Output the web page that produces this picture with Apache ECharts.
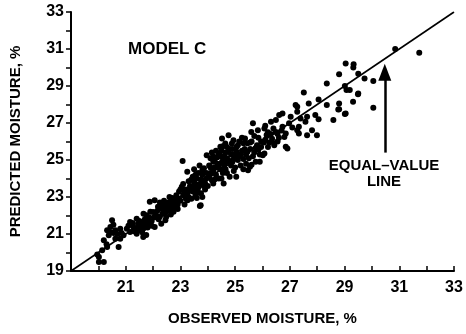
<!DOCTYPE html>
<html>
<head>
<meta charset="utf-8">
<style>
  html, body { margin: 0; padding: 0; background: #fff; }
  #chart { width: 466px; height: 334px; }
</style>
<script src="https://cdn.jsdelivr.net/npm/echarts@6/dist/echarts.min.js"></script>
</head>
<body>
<div id="chart"></div>
<script>
// ===== Data =====
const xTicks = [21, 23, 25, 27, 29, 31, 33];
const yTicks = [19, 21, 23, 25, 27, 29, 31, 33];
const equalLine = [[19, 19], [33, 33]];
const arrowFrom = [30.47, 25.4];
const arrowTo = [30.47, 29.75];

// observed, predicted
const ptsBelow21 = [
  [20.02,19.49],[20.2,19.49],[19.96,19.89],[20.02,19.76],[20.14,20.12],[20.32,20.3],[20.2,20.66],
  [20.32,21.2],[20.38,20.93],[20.5,21.74],[20.44,21.38],[20.62,20.75],[20.74,20.3],[20.62,21.2],
  [20.8,20.75],[20.92,20.93],[20.8,21.29],[20.56,21.05],[20.7,21.0],[20.45,21.1],[20.55,21.5],
  [20.85,21.05],[20.3,20.45]
];
const pts21to22 = [
  [21.04,21.29],[21.16,21.65],[21.28,21.38],[21.4,21.83],[21.52,21.38],[21.64,20.84],[21.58,21.65],
  [21.76,22.01],[21.88,21.56],[21.4,21.02],[21.16,21.11],[21.64,21.29],[21.1,21.45],[21.3,21.15],
  [21.45,21.55],[21.7,21.8],[21.85,21.9],[21.95,21.7],[21.5,21.7],[21.6,21.1],[21.8,21.35],
  [21.25,21.6],[21.9,22.2],[21.35,21.25],[21.75,20.95],[21.55,21.5],[21.7,21.5],[21.8,21.7],
  [21.45,21.2],[21.95,21.45],[21.65,22.1]
];
const pts22to23 = [
  [22.0,22.19],[22.06,21.38],[22.3,21.56],[22.24,22.38],[22.42,22.56],[22.6,22.28],[22.66,22.83],
  [22.48,21.92],[22.06,22.83],[21.88,22.74],[22.18,22.47],[22.1,22.0],[22.2,21.8],[22.35,22.1],
  [22.5,22.3],[22.55,22.7],[22.7,22.5],[22.8,22.9],[22.9,22.6],[22.75,22.2],[22.85,23.1],
  [22.95,23.3],[22.4,22.8],[22.3,22.55],[22.15,22.25],[22.65,22.05],[22.9,22.35],[22.45,21.75],
  [22.6,23.0],[22.25,21.95],[22.05,21.9],[22.35,22.35],[22.55,22.45],[22.75,22.7],[22.85,22.8],
  [22.45,22.15],[22.7,22.95],[22.95,22.9],[22.25,22.7],[22.8,22.45]
];
const pts23to24 = [
  [23.08,24.95],[23.74,22.56],[23.71,22.52],[23.0,22.8],[23.1,23.1],[23.15,22.6],[23.2,23.4],
  [23.25,24.36],[23.3,23.0],[23.35,23.6],[23.4,22.9],[23.45,23.3],[23.5,23.8],[23.55,23.1],
  [23.6,24.0],[23.65,23.5],[23.7,23.7],[23.75,23.2],[23.8,24.2],[23.85,23.9],[23.86,24.56],
  [23.9,23.4],[23.95,24.3],[23.96,25.26],[23.05,23.55],[23.2,22.9],[23.3,23.85],[23.45,24.1],
  [23.55,23.35],[23.65,24.3],[23.8,23.0],[23.9,23.75],[23.15,23.3],[23.4,23.55],[23.6,22.95],
  [23.26,22.83],[23.0,23.4],[23.5,24.5],[23.7,24.7],[23.1,23.7],[23.25,23.2],[23.35,23.35],
  [23.5,23.55],[23.6,23.65],[23.75,23.95],[23.85,23.6],[23.95,24.0],[23.4,23.95],[23.65,23.25],
  [23.8,24.45],[23.55,24.2]
];
const pts24to25 = [
  [24.0,23.6],[24.05,24.1],[24.1,24.6],[24.15,23.9],[24.2,23.73],[24.2,24.4],[24.25,25.0],
  [24.3,24.2],[24.35,24.8],[24.4,25.35],[24.45,24.5],[24.46,25.71],[24.5,24.0],[24.52,26.16],
  [24.55,25.1],[24.58,23.73],[24.6,24.7],[24.64,25.89],[24.65,25.4],[24.7,24.3],[24.75,25.0],
  [24.76,26.34],[24.8,25.6],[24.85,24.7],[24.88,25.89],[24.9,25.3],[24.94,26.07],[24.95,24.4],
  [24.1,25.1],[24.3,25.5],[24.4,24.0],[24.6,25.2],[24.7,25.7],[24.8,24.1],[24.2,24.9],
  [24.5,25.5],[24.35,24.6],[24.65,24.9],[24.85,25.3],[24.05,24.7],[24.25,23.95],[24.9,24.9],
  [24.15,25.4],[24.55,24.3],[24.1,24.3],[24.25,24.6],[24.4,24.7],[24.5,24.85],[24.6,24.95],
  [24.7,25.1],[24.8,24.85],[24.9,25.6],[24.35,25.15],[24.45,25.25],[24.75,25.45],[24.55,25.75],
  [24.95,25.05],[24.2,25.2],[24.65,24.5]
];
const pts25to26 = [
  [25.0,25.2],[25.04,24.1],[25.05,25.7],[25.1,25.0],[25.15,26.0],[25.2,24.7],[25.25,25.5],
  [25.3,24.5],[25.36,26.16],[25.4,25.3],[25.45,25.9],[25.47,24.45],[25.5,25.1],[25.54,24.63],
  [25.55,25.6],[25.59,26.52],[25.6,26.0],[25.65,26.98],[25.7,25.4],[25.75,24.9],[25.8,25.8],
  [25.83,26.61],[25.85,26.2],[25.9,25.3],[25.95,26.0],[25.1,25.8],[25.3,25.9],[25.2,25.3],
  [25.4,24.8],[25.65,25.2],[25.7,26.3],[25.9,24.9],[25.0,24.6],[25.25,26.2],[25.05,25.45],
  [25.15,25.2],[25.35,25.6],[25.45,25.45],[25.55,25.95],[25.75,25.65],[25.85,25.55],[25.6,24.75],
  [25.95,25.7],[25.3,25.05]
];
const pts26to27 = [
  [26.01,25.26],[26.07,26.7],[26.07,25.35],[26.1,26.1],[26.2,25.7],[26.31,27.07],[26.43,25.9],
  [26.43,25.8],[26.49,27.16],[26.49,26.52],[26.61,27.43],[26.73,27.52],[26.73,26.8],[26.85,26.43],
  [26.85,25.71],[26.91,25.62],[26.97,26.98],[26.3,26.4],[26.6,26.2],[26.15,26.35],[26.25,25.95],
  [26.55,26.0],[26.7,26.6],[26.05,25.95],[26.2,26.5],[26.35,26.15],[26.4,26.7],[26.55,26.4],
  [26.8,26.25],[26.1,26.85]
];
const ptsAbove27 = [
  [27.03,27.34],[27.09,26.76],[27.21,27.97],[27.27,27.61],[27.27,27.88],[27.27,26.61],[27.33,26.8],
  [27.33,26.43],[27.39,27.25],[27.51,28.65],[27.57,27.07],[27.63,27.34],[27.63,26.34],[27.69,28.06],
  [27.81,26.61],[27.93,27.43],[27.99,26.34],[28.05,28.27],[28.05,27.2],[28.35,29.14],[28.35,27.97],
  [28.59,27.16],[28.77,27.73],[28.8,29.63],[28.8,28.06],[28.8,27.75],[29.01,29.0],[29.01,27.48],
  [29.04,30.22],[29.04,27.52],[29.07,28.78],[29.19,28.78],[29.31,28.15],[29.33,30.17],[29.32,30.0],
  [29.49,28.56],[29.5,29.66],[29.5,28.6],[29.73,29.41],[30.05,29.27],[30.05,27.82],[30.85,31.0],
  [31.73,30.8]
];

const allPoints = [].concat(ptsBelow21, pts21to22, pts22to23, pts23to24,
  pts24to25, pts25to26, pts26to27, ptsAbove27);

// ===== Chart =====
const FONT = '"Liberation Sans", Arial, sans-serif';
const chart = echarts.init(document.getElementById('chart'), null, { renderer: 'canvas' });

const onlyTicks = list => v => (list.includes(v) ? String(v) : '');

chart.setOption({
  animation: false,
  backgroundColor: '#fff',
  grid: { left: 65, right: 12, top: 12, bottom: 63 },
  xAxis: {
    type: 'value', min: 19, max: 33, interval: 1,
    name: 'OBSERVED MOISTURE, %', nameLocation: 'middle', nameGap: 40,
    nameTextStyle: { color: '#000', fontFamily: FONT, fontWeight: 'bold', fontSize: 15 },
    axisLine: { lineStyle: { color: '#000', width: 2 } },
    axisTick: { inside: true, length: 5, lineStyle: { color: '#000', width: 1.5 } },
    axisLabel: {
      color: '#000', fontFamily: FONT, fontWeight: 'bold', fontSize: 16, margin: 9,
      formatter: onlyTicks(xTicks)
    },
    splitLine: { show: false }
  },
  yAxis: {
    type: 'value', min: 19, max: 33, interval: 1,
    name: 'PREDICTED MOISTURE, %', nameLocation: 'middle', nameGap: 48,
    nameTextStyle: { color: '#000', fontFamily: FONT, fontWeight: 'bold', fontSize: 15 },
    axisLine: { lineStyle: { color: '#000', width: 2 } },
    axisTick: { inside: false, length: 5, lineStyle: { color: '#000', width: 1.5 } },
    axisLabel: {
      color: '#000', fontFamily: FONT, fontWeight: 'bold', fontSize: 16, margin: 7,
      formatter: onlyTicks(yTicks)
    },
    splitLine: { show: false }
  },
  series: [
    {
      type: 'line',
      data: equalLine,
      symbol: 'none',
      lineStyle: { color: '#000', width: 1.6 },
      markLine: {
        silent: true,
        symbol: ['none', 'triangle'],
        symbolSize: 16,
        lineStyle: { color: '#000', width: 2.5, type: 'solid' },
        label: { show: false },
        data: [[
          { coord: arrowFrom, symbol: 'none' },
          { coord: arrowTo, symbol: 'triangle', symbolSize: [13, 17] }
        ]]
      }
    },
    {
      type: 'scatter',
      data: allPoints,
      symbol: 'circle',
      symbolSize: 6,
      itemStyle: { color: '#000', opacity: 1 }
    }
  ],
  graphic: [
    { type: 'text', left: 128, top: 41,
      style: { text: 'MODEL C', fill: '#000', font: 'bold 17px ' + FONT } },
    { type: 'text', x: 384, y: 166,
      style: { text: 'EQUAL–VALUE', fill: '#000', font: 'bold 15px ' + FONT, align: 'center', verticalAlign: 'middle' } },
    { type: 'text', x: 384, y: 182,
      style: { text: 'LINE', fill: '#000', font: 'bold 15px ' + FONT, align: 'center', verticalAlign: 'middle' } }
  ]
});
</script>
</body>
</html>
